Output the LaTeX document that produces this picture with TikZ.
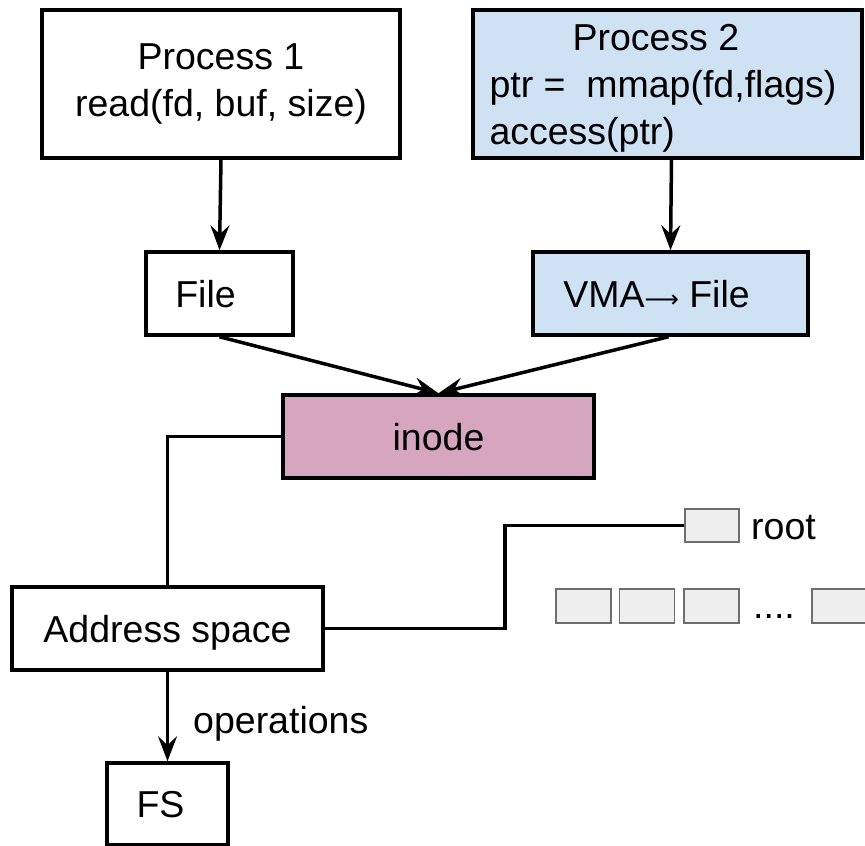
\documentclass[tikz,border=0pt]{standalone}
\usepackage{fontspec}
\setmainfont{Liberation Sans}
\newfontfamily\symfont{DejaVu Sans}
\usetikzlibrary{arrows.meta}
\definecolor{procblue}{HTML}{CFE2F3}
\definecolor{inodepink}{HTML}{D5A6BD}
\definecolor{slotgray}{HTML}{EEEEEE}
\definecolor{slotedge}{HTML}{6E6E6E}
\begin{document}
\begin{tikzpicture}[x=1pt,y=-1pt,
  every node/.style={inner sep=0pt, font=\fontsize{37.5}{47}\selectfont},
  box/.style={draw=black, line width=3.5pt, rectangle},
  onerow/.style={text height=27pt, text depth=0pt},
  slot/.style={draw=slotedge, fill=slotgray, line width=1.6pt,
               minimum width=55pt, minimum height=34pt},
  link/.style={draw=black, line width=3.5pt},
  arrow/.style={link, -{Stealth[length=25pt, width=19pt, inset=9pt]}}]
\useasboundingbox (0,0) rectangle (865,846);

% processes
\node[box, minimum width=358pt, minimum height=148pt, align=center]
  (p1) at (221,84) {Process 1\\read(fd, buf, size)};
\node[box, fill=procblue, minimum width=389pt, minimum height=148pt]
  (p2) at (667.5,84) {};
\node[align=left] (p2txt) at (663,88)
  {\hspace*{83pt}Process 2\\ptr = \ mmap(fd,flags)\\access(ptr)};

% file objects
\node[box, onerow, minimum width=147pt, minimum height=83pt]
  (file) at (219.5,293.5) {File\hspace*{28pt}};
\node[box, onerow, fill=procblue, minimum width=275pt, minimum height=83pt]
  (vma) at (670.5,293.5) {VMA{\symfont\fontsize{24}{30}\selectfont ⟶} File\hspace*{28pt}};

% inode, address space, file system
\node[box, onerow, fill=inodepink, minimum width=311pt, minimum height=83pt]
  (inode) at (438.5,436.5) {inode};
\node[box, onerow, minimum width=311pt, minimum height=83pt]
  (addr) at (167.5,628.5) {Address space};
\node[box, onerow, minimum width=121pt, minimum height=82pt]
  (fs) at (167.5,804) {FS\hspace*{14pt}};

% page tree
\node[slot, minimum width=54pt, minimum height=33pt] (root) at (712,525.5) {};
\node[anchor=base west] (rootlbl) at (751,539) {root};
\node[slot] (s1) at (583.5,606) {};
\node[slot] (s2) at (647,606) {};
\node[slot] (s3) at (711.5,606) {};
\node[anchor=base west] (dots) at (753,618) {....};
\node[slot] (s4) at (839.5,606) {};

% connectors
\draw[arrow] (p1.south) -- (file.north);
\draw[arrow] ([xshift=4pt]p2.south) -- (vma.north);
\draw[arrow] (file.south) -- (inode.north);
\draw[arrow] ([xshift=-2pt]vma.south) -- (inode.north);
\draw[link] (inode.west) -| (addr.north);
\coordinate (tap) at (505,628.5);
\draw[link] (addr.east) -- (tap) |- (root.west);
\draw[arrow] (addr.south) -- (fs.north);
\node[anchor=base west] (ops) at (193,733) {operations};
\end{tikzpicture}
\end{document}
